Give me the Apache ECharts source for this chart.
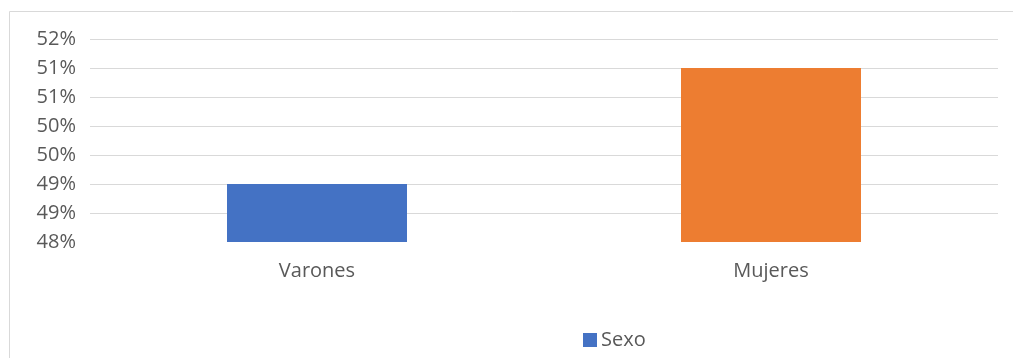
<!DOCTYPE html>
<html>
<head>
<meta charset="utf-8">
<script src="https://cdn.jsdelivr.net/npm/echarts@6/dist/echarts.min.js"></script>
<style>
  html, body { margin: 0; padding: 0; background: #fff; }
  #chart { width: 1013px; height: 358px; }
</style>
</head>
<body>
<div id="chart"></div>
<script>
// datos
const categories = ['Varones', 'Mujeres'];
const values = [49, 51];
const barColors = ['#4472C4', '#ED7D31'];
const seriesName = 'Sexo';

const chart = echarts.init(document.getElementById('chart'));
const textColor = '#595959';
const font = '"Open Sans", "Noto Sans", sans-serif';

const option = {
    animation: false,
    graphic: [{
        type: 'rect',
        shape: { x: 9.5, y: 11.5, width: 1020, height: 360 },
        style: { fill: 'none', stroke: '#d9d9d9', lineWidth: 1 },
        silent: true
    }],
    grid: { left: 90, right: 15, top: 39, bottom: 116 },
    legend: {
        left: 583,
        top: 330,
        padding: 0,
        itemWidth: 14,
        itemHeight: 14,
        itemGap: 6,
        icon: 'rect',
        textStyle: { color: textColor, fontSize: 20, fontFamily: font, padding: [0, 0, 0, -1] },
        data: [seriesName]
    },
    xAxis: {
        type: 'category',
        data: categories,
        axisLine: { show: false },
        axisTick: { show: false },
        axisLabel: { color: textColor, fontSize: 20, fontFamily: font, margin: 19 }
    },
    yAxis: {
        type: 'value',
        min: 48,
        max: 51.5,
        interval: 0.5,
        axisLine: { show: false },
        axisTick: { show: false },
        axisLabel: {
            color: textColor, fontSize: 20, fontFamily: font, margin: 14,
            formatter: v => Math.round(v) + '%'
        },
        splitLine: { show: true, showMinLine: false, lineStyle: { color: '#d9d9d9', width: 1 } }
    },
    series: [{
        name: seriesName,
        type: 'bar',
        barWidth: 180,
        color: barColors[0],
        data: values.map((v, i) => ({ value: v, itemStyle: { color: barColors[i] } }))
    }]
};
chart.setOption(option);
</script>
</body>
</html>
